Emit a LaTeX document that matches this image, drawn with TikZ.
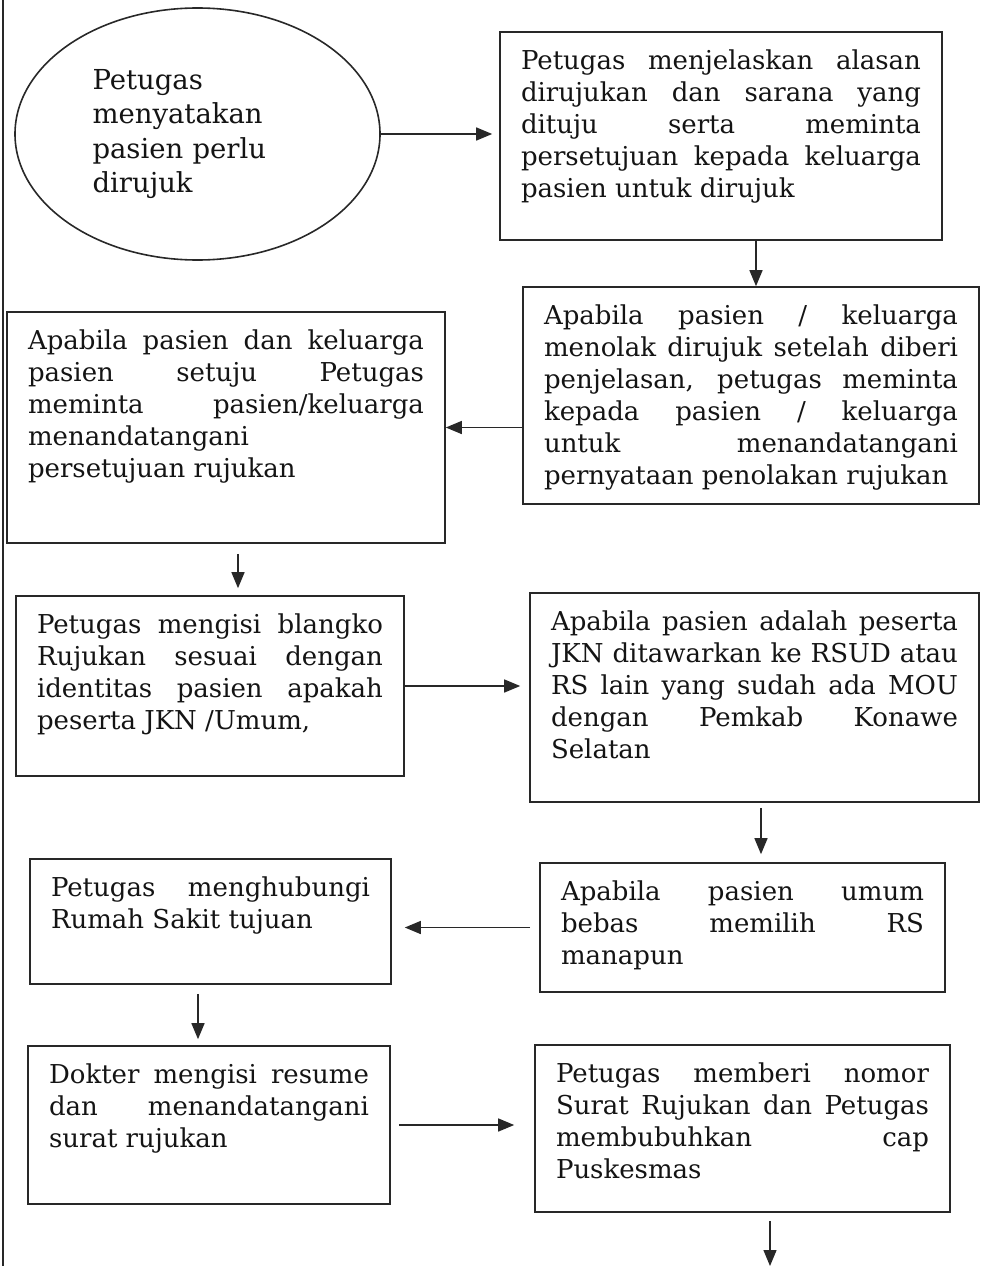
\documentclass[tikz,border=0pt]{standalone}
\usepackage{fontspec}
\setmainfont{DejaVu Serif}
\usetikzlibrary{shapes.geometric, arrows.meta}
\definecolor{garis}{RGB}{40, 40, 40}
\definecolor{tinta}{RGB}{20, 20, 20}
\newcommand{\isikotak}[3]{\parbox[t][#2pt][t]{#1pt}{\tolerance=10000\hbadness=10000\vbadness=10000 #3}}

\begin{document}
\begin{tikzpicture}[x=1pt, y=-1pt,
  kotak/.style={draw=garis, line width=1.6pt, inner xsep=21pt, inner ysep=18pt, text=tinta, font=\fontsize{26}{32}\selectfont},
  panah/.style={draw=garis, line width=1.4pt, -{Triangle[length=16pt, width=13pt]}}]
\useasboundingbox (0,0) rectangle (982,1266);

% Garis tepi kiri
\draw[garis, line width=2.5pt] (3,0) -- (3,1266);

% Mulai
\node[draw=garis, line width=1.6pt, ellipse, minimum width=365pt, minimum height=252pt, inner sep=0pt,
  text width=210pt, align=left, text=tinta, font=\fontsize{27.5}{34.5}\selectfont] (mulai) at (197.5,134)
  {Petugas\\ menyatakan\\ pasien perlu\\ dirujuk};

% Kolom kanan dan kiri
\node[kotak] (jelas) at (721,136) {\isikotak{400}{172}{Petugas menjelaskan alasan\linebreak
  dirujukan dan sarana yang\linebreak dituju serta meminta\linebreak
  persetujuan kepada keluarga\linebreak pasien untuk dirujuk}};

\node[kotak] (tolak) at (751,395.5) {\isikotak{414}{181}{Apabila pasien / keluarga\linebreak
  menolak dirujuk setelah diberi\linebreak penjelasan, petugas meminta\linebreak
  kepada pasien / keluarga\linebreak untuk menandatangani\linebreak pernyataan penolakan rujukan}};

\node[kotak] (setuju) at (226,427.5) {\isikotak{396}{195}{Apabila pasien dan keluarga\linebreak
  pasien setuju Petugas\linebreak meminta pasien/keluarga\linebreak
  menandatangani\newline persetujuan rujukan}};

\node[kotak] (blangko) at (210,686) {\isikotak{346}{144}{Petugas mengisi blangko\linebreak
  Rujukan sesuai dengan\linebreak identitas pasien apakah\linebreak peserta JKN /Umum,}};

\node[kotak] (jkn) at (754.5,697.5) {\isikotak{407}{173}{Apabila pasien adalah peserta\linebreak
  JKN ditawarkan ke RSUD atau\linebreak RS lain yang sudah ada MOU\linebreak
  dengan Pemkab Konawe\linebreak Selatan}};

\node[kotak] (umum) at (742.5,927.5) {\isikotak{363}{93}{Apabila pasien umum\linebreak
  bebas memilih RS\linebreak manapun}};

\node[kotak] (hubungi) at (210.5,921.5) {\isikotak{319}{89}{Petugas menghubungi\linebreak
  Rumah Sakit tujuan}};

\node[kotak] (resume) at (209,1125) {\isikotak{320}{122}{Dokter mengisi resume\linebreak
  dan menandatangani\linebreak surat rujukan}};

\node[kotak] (nomor) at (742.5,1128.5) {\isikotak{373}{131}{Petugas memberi nomor\linebreak
  Surat Rujukan dan Petugas\linebreak membubuhkan cap\linebreak Puskesmas}};

% Panah alur
\draw[panah, shorten >=7pt] (mulai.east) -- (mulai.east -| jelas.west);
\draw[panah] ([xshift=35pt]jelas.south) -- ([xshift=5pt]tolak.north);
\draw[panah] (tolak.west |- setuju.east) -- (setuju.east);
\draw[panah, shorten <=10pt, shorten >=7pt] ([xshift=12pt]setuju.south) -- ([xshift=28pt]blangko.north);
\draw[panah, shorten >=9pt] (blangko.east) -- (blangko.east -| jkn.west);
\draw[panah, shorten <=5pt, shorten >=8pt] ([xshift=6.5pt]jkn.south) -- ([xshift=18.5pt]umum.north);
\draw[panah, shorten <=9pt, shorten >=13pt] (umum.west) -- (umum.west -| hubungi.east);
\draw[panah, shorten <=9pt, shorten >=6pt] ([xshift=-12.5pt]hubungi.south) -- ([xshift=-11pt]resume.north);
\draw[panah, shorten <=8pt, shorten >=20pt] (resume.east) -- (resume.east -| nomor.west);
\coordinate (lanjut) at (770,1266);
\draw[panah, shorten <=8pt] ([xshift=27.5pt]nomor.south) -- (lanjut);
\end{tikzpicture}
\end{document}
